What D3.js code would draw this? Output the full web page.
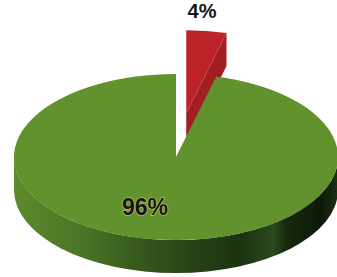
<!DOCTYPE html>
<meta charset="utf-8">
<style>
  body { margin: 0; background: #fff; }
  .lbl { font-family: "Liberation Sans", Arial, sans-serif; font-weight: bold; fill: #151515; }
</style>
<svg width="337" height="277"></svg>
<script src="https://cdn.jsdelivr.net/npm/d3@7"></script>
<script>
// data
var categories = ["Red", "Green"];
var values = [4, 96];
var labels = ["4%", "96%"];

var colorsTop = ["#bb2328", "#61922e"];
var colorsCut = ["#a21e23", "#4f7a26"];

var svg = d3.select("svg");

// ellipse geometry of the 3d pie
var cx = 176, cy = 157, rx = 162, ry = 83, depth = 33;
var explode = 86; // pull out of the small slice, in pie-plane units

var pie = d3.pie().sort(null).value(d => d)(values);

function pt(a, ox, oy, dy) {
  return [ox + rx * Math.sin(a), oy - ry * Math.cos(a) + (dy || 0)];
}

function topPath(d, ox, oy) {
  var p0 = pt(d.startAngle, ox, oy), p1 = pt(d.endAngle, ox, oy);
  var large = d.endAngle - d.startAngle > Math.PI ? 1 : 0;
  return "M" + ox + "," + oy + "L" + p0 + "A" + rx + "," + ry + " 0 " + large + " 1 " + p1 + "Z";
}

function wallPath(a0, a1, ox, oy) {
  var p0 = pt(a0, ox, oy), p1 = pt(a1, ox, oy);
  var q1 = pt(a1, ox, oy, depth), q0 = pt(a0, ox, oy, depth);
  var large = a1 - a0 > Math.PI ? 1 : 0;
  return "M" + p0 + "A" + rx + "," + ry + " 0 " + large + " 1 " + p1 +
    "L" + q1 + "A" + rx + "," + ry + " 0 " + large + " 0 " + q0 + "Z";
}

function cutPath(a, ox, oy) {
  var p = pt(a, ox, oy), q = pt(a, ox, oy, depth);
  return "M" + ox + "," + oy + "L" + p + "L" + q + "L" + ox + "," + (oy + depth) + "Z";
}

var defs = svg.append("defs");
var grad = defs.append("linearGradient").attr("id", "wall")
  .attr("gradientUnits", "userSpaceOnUse")
  .attr("x1", cx - rx).attr("x2", cx + rx).attr("y1", 0).attr("y2", 0);
[[0, "#5c8a2c"], [0.2, "#4c7626"], [0.45, "#2f4f1a"], [0.7, "#1c3211"],
 [0.8, "#2a4a1b"], [0.84, "#17290e"], [0.95, "#0d1808"], [1, "#1c3213"]]
  .forEach(s => grad.append("stop").attr("offset", s[0]).attr("stop-color", s[1]));

// small slice is pulled out along its mid angle
var offs = pie.map(function(d, i) {
  if (i !== 0) return [cx, cy];
  var m = (d.startAngle + d.endAngle) / 2;
  return [cx + explode * Math.sin(m) * 0.95, cy - explode * Math.cos(m) * ry / rx];
});

var g = svg.append("g");

// red slice (behind)
var r = pie[0], ro = offs[0];
g.append("path").attr("d", cutPath(r.endAngle, ro[0], ro[1])).attr("fill", colorsCut[0]);
g.append("path").attr("d", topPath(r, ro[0], ro[1])).attr("fill", colorsTop[0]);

// green slice
var gr = pie[1], go = offs[1];
g.append("path").attr("d", wallPath(Math.PI / 2, 3 * Math.PI / 2, go[0], go[1])).attr("fill", "url(#wall)");
g.append("path").attr("d", topPath(gr, go[0], go[1])).attr("fill", colorsTop[1]);

// labels
svg.append("text").attr("class", "lbl").attr("x", 202).attr("y", 18)
  .attr("text-anchor", "middle").attr("font-size", 20).text(labels[0]);
svg.append("text").attr("class", "lbl").attr("x", 145).attr("y", 215)
  .attr("text-anchor", "middle").attr("font-size", 23)
  .attr("stroke", "#b8c25a").attr("stroke-width", 1.5).attr("paint-order", "stroke")
  .text(labels[1]);
</script>
